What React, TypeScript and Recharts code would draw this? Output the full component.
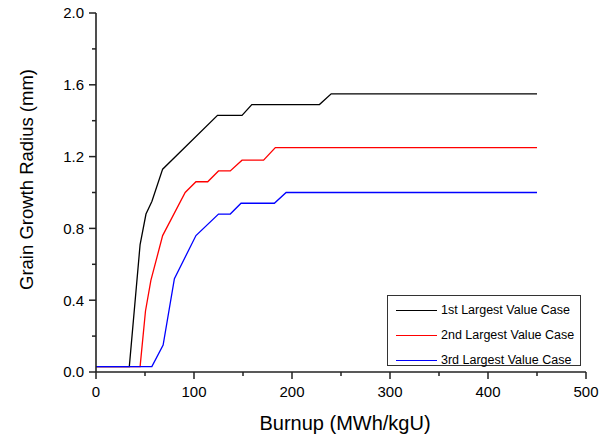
import React from "react";
import { LineChart, Line, XAxis, YAxis } from "recharts";

// values
const case1Burnup = [0, 34, 45, 51, 57, 68, 124, 149, 159, 228, 240, 450];
const case1Radius = [0.03, 0.03, 0.71, 0.88, 0.95, 1.13, 1.43, 1.43, 1.49, 1.49, 1.55, 1.55];

const case2Burnup = [0, 45, 50.5, 56, 68, 91, 102, 114, 125, 137, 149, 171, 183, 450];
const case2Radius = [0.03, 0.03, 0.34, 0.51, 0.76, 1.0, 1.06, 1.06, 1.12, 1.12, 1.18, 1.18, 1.25, 1.25];

const case3Burnup = [0, 57, 68.5, 80, 102, 125, 137, 148, 182, 194, 450];
const case3Radius = [0.03, 0.03, 0.15, 0.52, 0.76, 0.88, 0.88, 0.94, 0.94, 1.0, 1.0];

const xTicks = [0, 50, 100, 150, 200, 250, 300, 350, 400, 450, 500];
const yTicks = [0, 0.2, 0.4, 0.6, 0.8, 1.0, 1.2, 1.4, 1.6, 1.8, 2.0];

const toPoints = (xs: number[], ys: number[]) => xs.map((x, i) => ({ x, y: ys[i] }));

const series = [
  { name: "1st Largest Value Case", color: "#000000", data: toPoints(case1Burnup, case1Radius) },
  { name: "2nd Largest Value Case", color: "#ff0000", data: toPoints(case2Burnup, case2Radius) },
  { name: "3rd Largest Value Case", color: "#0000ff", data: toPoints(case3Burnup, case3Radius) },
];

const FONT = "'Liberation Sans', Arial, sans-serif";
const FRAME = "#222";

const isMajorX = (v: number) => v % 100 === 0;
const isMajorY = (v: number) => Math.abs(v / 0.4 - Math.round(v / 0.4)) < 1e-6;

const BottomTick = (props: any) => {
  const { x, y, payload } = props;
  const major = isMajorX(payload.value);
  return (
    <g>
      <line x1={x} x2={x} y1={y} y2={y + (major ? 7 : 4)} stroke={FRAME} strokeWidth={1.5} />
      {major && (
        <text x={x} y={y + 25} textAnchor="middle" fontSize={15} fontFamily={FONT} fill="#000">
          {payload.value}
        </text>
      )}
    </g>
  );
};

const LeftTick = (props: any) => {
  const { x, y, payload } = props;
  const major = isMajorY(payload.value);
  return (
    <g>
      <line x1={x - (major ? 7 : 4)} x2={x} y1={y} y2={y} stroke={FRAME} strokeWidth={1.5} />
      {major && (
        <text x={x - 12} y={y} dy="0.36em" textAnchor="end" fontSize={15} fontFamily={FONT} fill="#000">
          {payload.value.toFixed(1)}
        </text>
      )}
    </g>
  );
};

const TopTick = (props: any) => {
  const { x, y, payload } = props;
  const major = isMajorX(payload.value);
  return <line x1={x} x2={x} y1={y} y2={y + (major ? 4 : 2.5)} stroke={FRAME} strokeWidth={1.5} />;
};

const RightTick = (props: any) => {
  const { x, y, payload } = props;
  const major = isMajorY(payload.value);
  return <line x1={x - (major ? 4 : 2.5)} x2={x} y1={y} y2={y} stroke={FRAME} strokeWidth={1.5} />;
};

const XTitle = (props: any) => {
  const { viewBox } = props;
  return (
    <text x={viewBox.x + viewBox.width / 2 + 4} y={430} textAnchor="middle" fontSize={20} fontFamily={FONT} fill="#000">
      Burnup (MWh/kgU)
    </text>
  );
};

const YTitle = (props: any) => {
  const { viewBox } = props;
  const cy = viewBox.y + viewBox.height / 2 - 13;
  return (
    <text transform={`translate(33, ${cy}) rotate(-90)`} textAnchor="middle" fontSize={18.5} fontFamily={FONT} fill="#000">
      Grain Growth Radius (mm)
    </text>
  );
};

const LegendBox = () => (
  <div
    style={{
      position: "absolute",
      left: 387,
      top: 295,
      width: 194,
      height: 71,
      border: "1px solid #333",
      background: "#fff",
      fontFamily: FONT,
      fontSize: 12.5,
      boxSizing: "border-box",
    }}
  >
    {series.map((s, i) => (
      <div
        key={s.name}
        style={{ position: "absolute", left: 8, top: 6 + i * 25, height: 16, display: "flex", alignItems: "center" }}
      >
        <span style={{ display: "inline-block", width: 41, height: 0, borderTop: `1.5px solid ${s.color}`, marginRight: 4 }} />
        <span style={{ color: "#000", whiteSpace: "nowrap" }}>{s.name}</span>
      </div>
    ))}
  </div>
);

export default function App() {
  return (
    <div style={{ position: "absolute", left: 0, top: 0, width: 611, height: 436, background: "#fff" }}>
      <LineChart width={611} height={436} margin={{ top: 13, right: 25, bottom: 0, left: 0 }}>
        <XAxis
          xAxisId="x"
          type="number"
          dataKey="x"
          domain={[0, 500]}
          allowDataOverflow
          ticks={xTicks}
          interval={0}
          height={64}
          tickSize={0}
          tickMargin={0}
          tickLine={false}
          axisLine={{ stroke: FRAME, strokeWidth: 1.6 }}
          tick={<BottomTick />}
          label={<XTitle />}
        />
        <XAxis
          xAxisId="top"
          orientation="top"
          type="number"
          domain={[0, 500]}
          allowDataOverflow
          ticks={xTicks}
          interval={0}
          height={0}
          tickSize={0}
          tickMargin={0}
          tickLine={false}
          axisLine={{ stroke: FRAME, strokeWidth: 1.6 }}
          tick={<TopTick />}
        />
        <YAxis
          yAxisId="y"
          type="number"
          domain={[0, 2]}
          allowDataOverflow
          ticks={yTicks}
          interval={0}
          width={96}
          tickSize={0}
          tickMargin={0}
          tickLine={false}
          axisLine={{ stroke: FRAME, strokeWidth: 1.6 }}
          tick={<LeftTick />}
          label={<YTitle />}
        />
        <YAxis
          yAxisId="right"
          orientation="right"
          type="number"
          domain={[0, 2]}
          allowDataOverflow
          ticks={yTicks}
          interval={0}
          width={0}
          tickSize={0}
          tickMargin={0}
          tickLine={false}
          axisLine={{ stroke: FRAME, strokeWidth: 1.6 }}
          tick={<RightTick />}
        />
        {series.map((s) => (
          <Line
            key={s.name}
            xAxisId="x"
            yAxisId="y"
            data={s.data}
            dataKey="y"
            name={s.name}
            type="linear"
            stroke={s.color}
            strokeWidth={1.3}
            dot={false}
            activeDot={false}
            isAnimationActive={false}
          />
        ))}
      </LineChart>
      <LegendBox />
    </div>
  );
}
